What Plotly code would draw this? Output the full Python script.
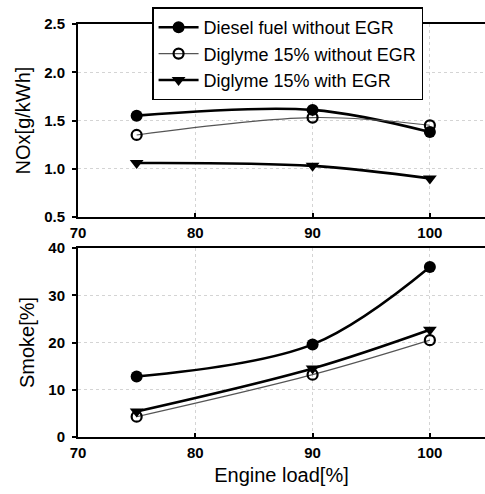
import plotly.graph_objects as go

# Engine load (%) and measured emissions
load = [75, 90, 100]

nox_diesel = [1.55, 1.61, 1.38]
nox_diglyme = [1.35, 1.53, 1.45]
nox_diglyme_egr = [1.06, 1.03, 0.90]

smoke_diesel = [12.8, 19.6, 36.0]
smoke_diglyme = [4.3, 13.2, 20.5]
smoke_diglyme_egr = [5.4, 14.5, 22.7]

series_names = ["Diesel fuel without EGR", "Diglyme 15% without EGR", "Diglyme 15% with EGR"]

FONT = "Liberation Sans, Arial, sans-serif"

styles = [
    dict(line=dict(color="black", width=2.6, shape="spline", smoothing=1.0),
         marker=dict(symbol="circle", size=12, color="black")),
    dict(line=dict(color="#555555", width=1.1, shape="spline", smoothing=1.0),
         marker=dict(symbol="circle-open", size=10, color="black", line=dict(width=2.2, color="black"))),
    dict(line=dict(color="black", width=2.6, shape="spline", smoothing=1.0),
         marker=dict(symbol="triangle-down", size=12, color="black")),
]

fig = go.Figure()

for name, ys, st in zip(series_names, [nox_diesel, nox_diglyme, nox_diglyme_egr], styles):
    fig.add_trace(go.Scatter(x=load, y=ys, mode="lines+markers", name=name,
                             xaxis="x", yaxis="y", showlegend=True, **st))

for name, ys, st in zip(series_names, [smoke_diesel, smoke_diglyme, smoke_diglyme_egr], styles):
    fig.add_trace(go.Scatter(x=load, y=ys, mode="lines+markers", name=name,
                             xaxis="x2", yaxis="y2", showlegend=False, **st))

tick_font = dict(family=FONT, size=15, color="black", weight="bold")
title_font = dict(family=FONT, size=20, color="black")

axis_common = dict(
    showline=True, linecolor="black", linewidth=2,
    ticklen=4, tickwidth=1.5, tickcolor="black",
    showgrid=True, gridcolor="#d4d4d4", griddash="dot", gridwidth=1,
    zeroline=False,
    tickfont=tick_font,
)

x_common = dict(domain=[0, 1], range=[70, 104.7], tickvals=[70, 80, 90, 100],
                mirror=True, ticks="inside", ticklabelstandoff=1, **axis_common)
y_common = dict(ticks="outside", ticklabelstandoff=4, **axis_common)

fig.update_layout(
    width=485, height=494,
    margin=dict(l=78, r=0, t=24, b=57),
    paper_bgcolor="white", plot_bgcolor="white",
    font=dict(family=FONT, color="black"),
    xaxis=dict(anchor="y", **x_common),
    yaxis=dict(domain=[0.5327, 1], anchor="x", range=[0.5, 2.5],
               tickvals=[0.5, 1.0, 1.5, 2.0, 2.5], tickformat=".1f",
               title=dict(text="NOx[g/kWh]", font=title_font, standoff=8),
               **y_common),
    xaxis2=dict(anchor="y2",
                title=dict(text="Engine load[%]", font=title_font, standoff=8),
                **x_common),
    yaxis2=dict(domain=[0, 0.4576], anchor="x2", range=[0, 40],
                tickvals=[0, 10, 20, 30, 40],
                title=dict(text="Smoke[%]", font=title_font, standoff=8),
                **y_common),
    legend=dict(x=0.182, y=1.04, xanchor="left", yanchor="top",
                bgcolor="white", bordercolor="black", borderwidth=1.5,
                font=dict(family=FONT, size=18, color="black"),
                tracegroupgap=0, itemwidth=40),
)

fig.write_html("out.html")
